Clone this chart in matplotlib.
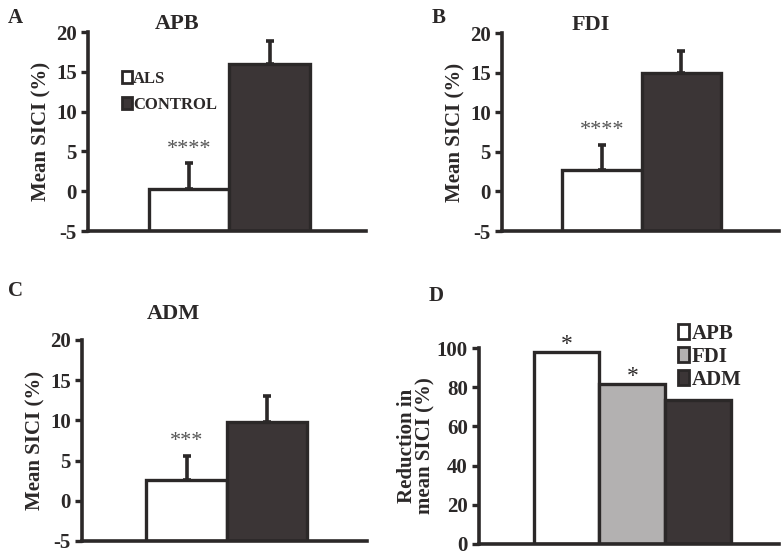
import matplotlib
matplotlib.use("Agg")
import matplotlib.pyplot as plt
from matplotlib.patches import Patch

plt.rcParams['font.family'] = ['Liberation Serif', 'DejaVu Serif']
plt.rcParams['font.weight'] = 'bold'
plt.rcParams['axes.unicode_minus'] = False

# data
groups = ['ALS', 'CONTROL']
apb_mean = [0.3, 16.0]
apb_err = [3.2, 2.9]
fdi_mean = [2.7, 14.9]
fdi_err = [3.2, 2.8]
adm_mean = [2.6, 9.8]
adm_err = [3.0, 3.2]
stars = ['****', '****', '***']

muscles = ['APB', 'FDI', 'ADM']
reduction = [98.0, 81.5, 73.5]
reduction_stars = ['*', '*', '']

ink = '#2b2828'
dark = '#3b3536'
gray = '#b3b1b1'
bar_colors = ['white', dark]
base = -5

fig = plt.figure(figsize=(7.84, 5.56), dpi=100)


def style_axis(ax, lw=2.6):
    for s in ['top', 'right']:
        ax.spines[s].set_visible(False)
    for s in ['left', 'bottom']:
        ax.spines[s].set_linewidth(lw)
        ax.spines[s].set_color(ink)
    ax.tick_params(axis='y', length=5, width=2.4, color=ink, labelsize=15, pad=3)
    ax.tick_params(axis='x', length=0, labelbottom=False)
    for t in ax.get_yticklabels():
        t.set_fontweight('bold')
        t.set_color(ink)


def sici_panel(rect, means, errs, star, title, title_y, letter, letter_xy, xlim):
    ax = fig.add_axes(rect)
    x = list(range(len(means)))
    # bars start at the bottom of the axis (-5), as in the original
    ax.bar(x, [m - base for m in means], width=1.0, bottom=base, color=bar_colors,
           edgecolor=ink, linewidth=2.4, zorder=2)
    for xi, m, e in zip(x, means, errs):
        ax.errorbar(xi, m, yerr=[[0], [e]], fmt='none', ecolor=ink,
                    elinewidth=2.6, capsize=3, capthick=2.6, zorder=3)
    ax.text(0, means[0] + errs[0] + 0.6, star, ha='center', va='bottom',
            fontsize=16, fontweight='normal', color='#555555')
    ax.set_xlim(*xlim)
    ax.set_ylim(-5, 20)
    ax.set_yticks([-5, 0, 5, 10, 15, 20])
    ax.set_ylabel('Mean SICI (%)', fontsize=15, fontweight='bold', color=ink, labelpad=3)
    ax.set_title(title, x=0.32, y=title_y, fontsize=16, fontweight='bold', color=ink,
                 va='center')
    style_axis(ax)
    fig.text(letter_xy[0], letter_xy[1], letter, fontsize=15, fontweight='bold',
             color=ink, ha='left', va='center')
    return ax


axA = sici_panel([0.1122, 0.5845, 0.3546, 0.3579], apb_mean, apb_err, stars[0],
                 'APB', 1.0, 'A', (0.010, 0.968), (-1.26, 2.2))
axA.legend(handles=[Patch(facecolor='white', edgecolor=ink, linewidth=2.0, label='ALS'),
                    Patch(facecolor=dark, edgecolor=ink, linewidth=2.0, label='CONTROL')],
           loc='upper left', bbox_to_anchor=(0.07, 0.88), frameon=False,
           handlelength=0.55, handleheight=0.7, handletextpad=0.1,
           labelspacing=0.6, prop={'size': 12, 'weight': 'bold'}, labelcolor=ink)

sici_panel([0.6403, 0.5845, 0.3533, 0.3561], fdi_mean, fdi_err, stars[1],
           'FDI', 1.0, 'B', (0.551, 0.968), (-1.26, 2.23))

sici_panel([0.1046, 0.027, 0.3635, 0.3615], adm_mean, adm_err, stars[2],
           'ADM', 1.09, 'C', (0.010, 0.476), (-1.3, 2.24))

# panel D
axD = fig.add_axes([0.611, 0.0216, 0.3827, 0.3525])
xd = list(range(len(reduction)))
axD.bar(xd, reduction, width=1.0, color=['white', gray, dark],
        edgecolor=ink, linewidth=2.4, zorder=2)
for xi, v, s in zip(xd, reduction, reduction_stars):
    if s:
        axD.text(xi, v - 1.5, s, ha='center', va='bottom', fontsize=17,
                 fontweight='normal', color=ink)
axD.set_xlim(-1.33, 3.23)
axD.set_ylim(0, 100)
axD.set_yticks([0, 20, 40, 60, 80, 100])
axD.set_ylabel('Reduction in\nmean SICI (%)', fontsize=15, fontweight='bold',
               color=ink, labelpad=1, linespacing=0.9)
style_axis(axD)
axD.legend(handles=[Patch(facecolor='white', edgecolor=ink, linewidth=2.0, label=muscles[0]),
                    Patch(facecolor=gray, edgecolor=ink, linewidth=2.0, label=muscles[1]),
                    Patch(facecolor=dark, edgecolor=ink, linewidth=2.0, label=muscles[2])],
           loc='upper left', bbox_to_anchor=(0.6, 1.22), frameon=False,
           handlelength=0.55, handleheight=0.7, handletextpad=0.1,
           labelspacing=0.15, prop={'size': 15, 'weight': 'bold'}, labelcolor=ink)
fig.text(0.547, 0.467, 'D', fontsize=15, fontweight='bold', color=ink,
         ha='left', va='center')

fig.savefig('out.png', dpi=100)
